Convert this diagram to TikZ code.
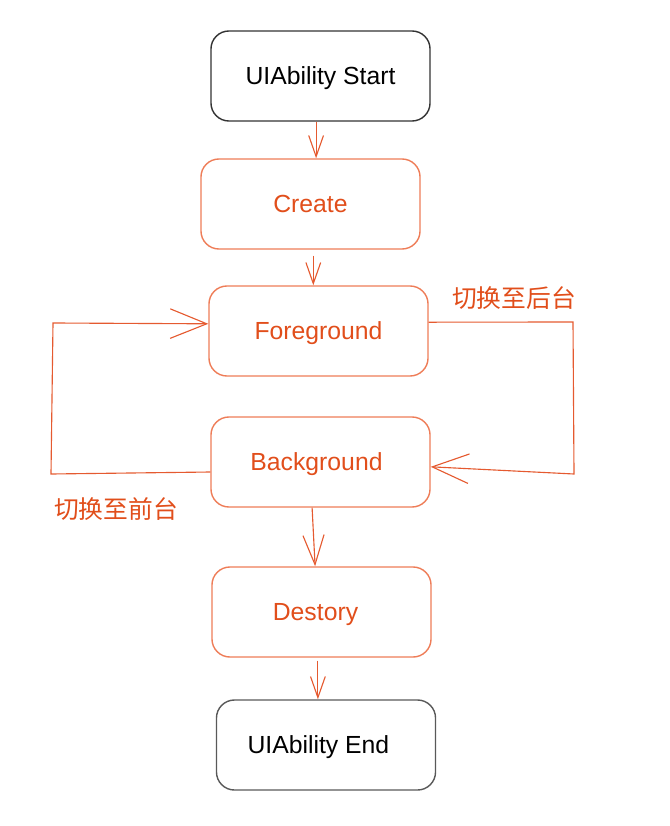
\documentclass[tikz,border=0pt]{standalone}
\usepackage{fontspec}
\setmainfont{Liberation Sans}
\newfontfamily\cjkfont{Noto Sans CJK SC}
\usetikzlibrary{arrows.meta}
\definecolor{stateText}{HTML}{E14E1B}
\definecolor{stateLine}{HTML}{EE7D58}
\definecolor{flowLine}{HTML}{E55A30}
\tikzset{
    statebox/.style={draw=stateLine, line width=1pt, rounded corners=0.45cm,
        minimum width=5.475cm, minimum height=2.25cm, inner sep=0pt, text depth=0pt,
        text=stateText, font=\fontsize{17.6}{21}\selectfont},
    endbox/.style={statebox, draw=#1, text=black},
    flow/.style={draw=flowLine, line width=0.8pt},
    headS/.style={flow, -{Straight Barb[length=15pt,width=10.5pt]}},
    headM/.style={flow, -{Straight Barb[length=21pt,width=15pt]}},
    headL/.style={flow, -{Straight Barb[length=26pt,width=21pt]}},
    switchlabel/.style={text=stateText, font=\cjkfont\fontsize{17.6}{21}\selectfont}
}
\begin{document}
\begin{tikzpicture}[x=0.025cm,y=-0.025cm]
    \useasboundingbox (0,0) rectangle (669,826);

    % states
    \node[endbox=black!80] (start) at (320.5,76) {UIAbility Start};
    \node[statebox] (create) at (310.5,204) {Create};
    \node[statebox] (fg) at (318.5,331) {Foreground};
    \node[statebox] (bg) at (320.5,462) {\hspace*{-0.2cm}Background};
    \node[statebox] (destroy) at (321.5,612) {\hspace*{-0.3cm}Destory};
    \node[endbox=black!65] (finish) at (326,745) {\hspace*{-0.38cm}UIAbility End};

    % labels
    \node[switchlabel] (tobg) at (514,298) {切换至后台};
    \node[switchlabel] (tofg) at (116,509) {切换至前台};

    % loop corners
    \coordinate (rtop) at (573,322);
    \coordinate (rbot) at (574,474);
    \coordinate (lbot) at (51,474);
    \coordinate (ltop) at (53,323);

    % arrows
    \draw[headS] ([xshift=-0.11cm]start.south) -- ([xshift=-0.11cm]start.south |- create.north);
    \draw[headS, shorten <=0.15cm] ([xshift=0.07cm]create.south) -- ([xshift=0.07cm]create.south |- fg.north);
    \draw[headM] ([xshift=-0.21cm]bg.south) -- ([xshift=-0.16cm]destroy.north);
    \draw[headS, shorten <=0.07cm] ([xshift=-0.09cm]destroy.south) -- ([xshift=-0.09cm]destroy.south |- finish.north);

    \draw[headL] ([yshift=0.22cm]fg.east) -- (rtop) -- (rbot) -- ([yshift=-0.12cm]bg.east);
    \draw[headL] ([yshift=-0.25cm]bg.west) -- (lbot) -- (ltop) -- ([yshift=0.18cm]fg.west);
\end{tikzpicture}
\end{document}
